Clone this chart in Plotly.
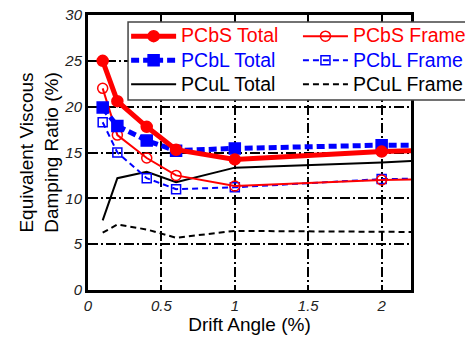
import plotly.graph_objects as go

# Drift angle (%) of each loading step; the last step lies beyond the axis range
drift = [0.1, 0.2, 0.4, 0.6, 1.0, 2.0, 2.5]

pcbs_total = [25.0, 20.6, 17.8, 15.3, 14.25, 15.1, 15.35]
pcbs_frame = [22.0, 16.9, 14.4, 12.5, 11.35, 12.0, 12.15]
pcbl_total = [19.9, 17.9, 16.3, 15.2, 15.45, 15.8, 15.8]
pcbl_frame = [18.3, 15.0, 12.2, 11.0, 11.2, 12.1, 12.2]
pcul_total = [7.6, 12.2, 12.9, 11.75, 13.35, 13.9, 14.3]
pcul_frame = [6.25, 7.15, 6.6, 5.7, 6.45, 6.3, 6.3]

x_ticks = [0, 0.5, 1, 1.5, 2]
x_tick_text = ["0", "0.5", "1", "1.5", "2"]
y_ticks = [0, 5, 10, 15, 20, 25, 30]

RED = "#ff0000"
BLUE = "#0000ff"
BLACK = "#000000"
FONT = "Arial, Liberation Sans"

# "Total" curves go in the left legend column, "Frame" curves in the right one
series = [
    dict(name="PCbS Total", y=pcbs_total, color=RED, width=5, dash="solid",
         symbol="circle", size=11, legend="legend", rank=1),
    dict(name="PCbS Frame", y=pcbs_frame, color=RED, width=2, dash="solid",
         symbol="circle-open", size=10, legend="legend2", rank=1),
    dict(name="PCbL Total", y=pcbl_total, color=BLUE, width=5, dash="8px,4px",
         symbol="square", size=11, legend="legend", rank=2),
    dict(name="PCbL Frame", y=pcbl_frame, color=BLUE, width=2, dash="6px,4px",
         symbol="square-open", size=9, legend="legend2", rank=2),
    dict(name="PCuL Total", y=pcul_total, color=BLACK, width=2, dash="solid",
         symbol=None, size=0, legend="legend", rank=3),
    dict(name="PCuL Frame", y=pcul_frame, color=BLACK, width=2, dash="6px,4px",
         symbol=None, size=0, legend="legend2", rank=3),
]

fig = go.Figure()
draw_order = [5, 4, 3, 1, 2, 0]
for i in draw_order:
    s = series[i]
    has_marker = s["symbol"] is not None
    fig.add_trace(go.Scatter(
        x=drift, y=s["y"],
        mode="lines+markers" if has_marker else "lines",
        name=(f"<span style='color:{s['color']};font-size:19.5px'>"
              f"{s['name']}</span>"),
        legend=s["legend"],
        legendrank=s["rank"],
        line=dict(color=s["color"], width=s["width"], dash=s["dash"]),
        marker=dict(symbol=s["symbol"], size=s["size"], color=s["color"],
                    line=dict(color=s["color"], width=1.5)) if has_marker else None,
    ))

axis_style = dict(showgrid=True, gridcolor=BLACK, gridwidth=1.8,
                  griddash="10px,3px,2px,3px",
                  showline=True, linecolor=BLACK, linewidth=3, mirror=True,
                  zeroline=False, ticks="",
                  tickfont=dict(family=FONT, size=15, color="#222222", style="italic"))

fig.update_xaxes(range=[0, 2.2], tickvals=x_ticks, ticktext=x_tick_text,
                 title=dict(text="Drift Angle (%)", standoff=2,
                            font=dict(family=FONT, size=19, color=BLACK)),
                 **axis_style)
fig.update_yaxes(range=[0, 30], tickvals=y_ticks,
                 title=dict(text="Equivalent Viscous<br>Damping Ratio (%)", standoff=1,
                            font=dict(family=FONT, size=19, color=BLACK)),
                 **axis_style)

legend_style = dict(orientation="v", yanchor="top", xanchor="left",
                    bgcolor="rgba(0,0,0,0)", borderwidth=0,
                    font=dict(family=FONT, size=16.2),
                    itemwidth=45, tracegroupgap=0, itemclick=False,
                    traceorder="normal")

fig.update_layout(
    width=465, height=338,
    margin=dict(l=88, r=54, t=15, b=48, autoexpand=False),
    paper_bgcolor="white", plot_bgcolor="white",
    font=dict(family=FONT, color=BLACK),
    showlegend=True,
    legend=dict(x=0.118, y=0.985, **legend_style),
    legend2=dict(x=0.650, y=0.985, **legend_style),
    shapes=[dict(type="rect", xref="paper", yref="paper",
                 x0=0.124, x1=1.3, y0=0.691, y1=0.975,
                 fillcolor="white", layer="above",
                 line=dict(color="#444444", width=1.5))],
)

fig.write_html("out.html")
